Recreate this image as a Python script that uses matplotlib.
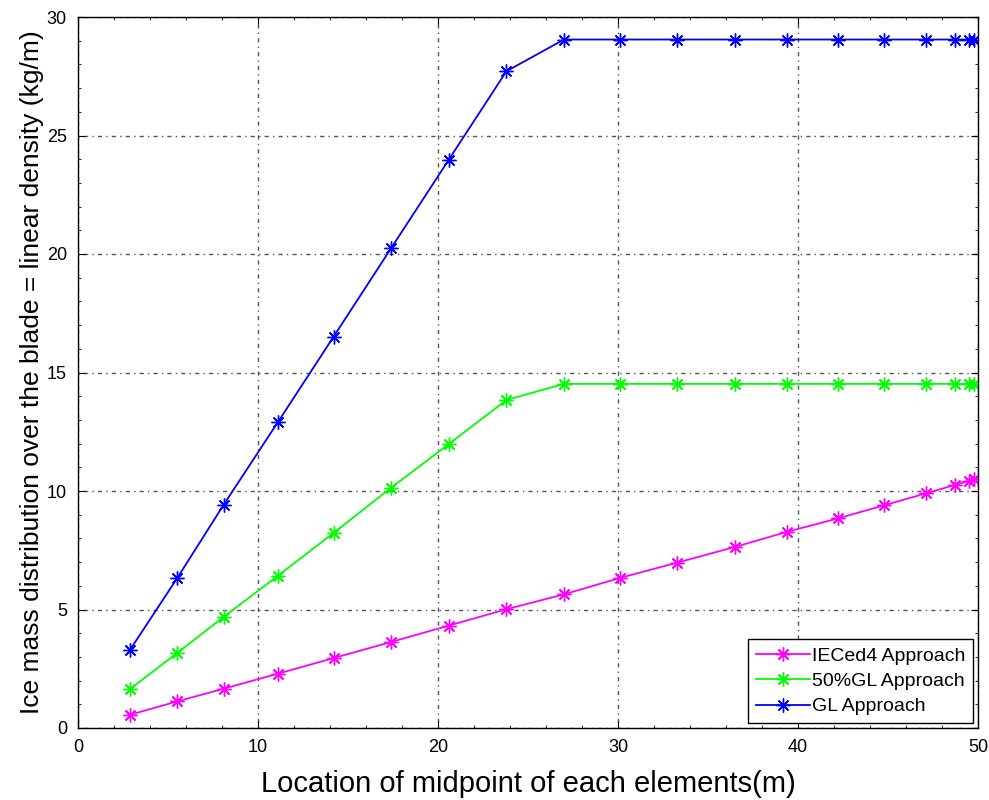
import matplotlib.pyplot as plt

# element midpoints along the blade (m)
x_mid = [2.9, 5.5, 8.1, 11.1, 14.2, 17.4, 20.6, 23.8, 27.0, 30.1, 33.3,
         36.5, 39.4, 42.2, 44.8, 47.1, 48.7, 49.5, 49.8]

# ice linear density (kg/m)
iec_ed4 = [0.56, 1.12, 1.66, 2.29, 2.95, 3.63, 4.32, 5.01, 5.64, 6.33, 6.98,
           7.64, 8.28, 8.84, 9.40, 9.90, 10.25, 10.43, 10.49]
gl_half = [1.65, 3.16, 4.69, 6.42, 8.23, 10.14, 11.98, 13.84, 14.52, 14.52,
           14.52, 14.52, 14.52, 14.52, 14.52, 14.52, 14.52, 14.52, 14.52]
gl_full = [3.31, 6.31, 9.43, 12.9, 16.51, 20.25, 23.98, 27.71, 29.05, 29.05,
           29.05, 29.05, 29.05, 29.05, 29.05, 29.05, 29.05, 29.05, 29.05]

labels = ["IECed4 Approach", "50%GL Approach", "GL Approach"]

plt.rcParams['font.family'] = ['Liberation Sans', 'DejaVu Sans']

fig = plt.figure(figsize=(9.89, 8.0), dpi=100)
ax = fig.add_axes([78/989, 1 - 728/800, 900/989, 711/800])

star = (8, 2, 0)
ax.plot(x_mid, iec_ed4, color='#ff00ff', marker=star, markersize=10, lw=1.3, label=labels[0])
ax.plot(x_mid, gl_half, color='#00ff00', marker=star, markersize=10, lw=1.3, label=labels[1])
ax.plot(x_mid, gl_full, color='#0000ff', marker=star, markersize=10, lw=1.3, label=labels[2])

ax.set_xlim(0, 50)
ax.set_ylim(0, 30)
ax.set_xticks(range(0, 51, 10))
ax.set_yticks(range(0, 31, 5))
ax.minorticks_on()
ax.tick_params(which='both', direction='in', top=True, right=True, labelsize=13)
ax.tick_params(which='major', length=5)
ax.tick_params(which='minor', length=2.5)
ax.tick_params(axis='x', which='major', pad=8)
ax.tick_params(axis='y', which='major', pad=8)
ax.grid(True, which='major', color='#555555', linestyle=(0, (1, 3, 3, 3)), linewidth=1.0)
for s in ax.spines.values():
    s.set_linewidth(1.0)

ax.set_xlabel("Location of midpoint of each elements(m)", fontsize=21, labelpad=10)
ax.set_ylabel("Ice mass distribution over the blade = linear density (kg/m)",
              fontsize=19, labelpad=2)

leg = ax.legend(loc='lower right', fontsize=14, fancybox=False, framealpha=1,
                edgecolor='black', borderaxespad=0.25, handlelength=2.8,
                handletextpad=0.1, labelspacing=0.4, borderpad=0.4)
leg.get_frame().set_linewidth(1.0)

fig.savefig("out.png", dpi=100)
